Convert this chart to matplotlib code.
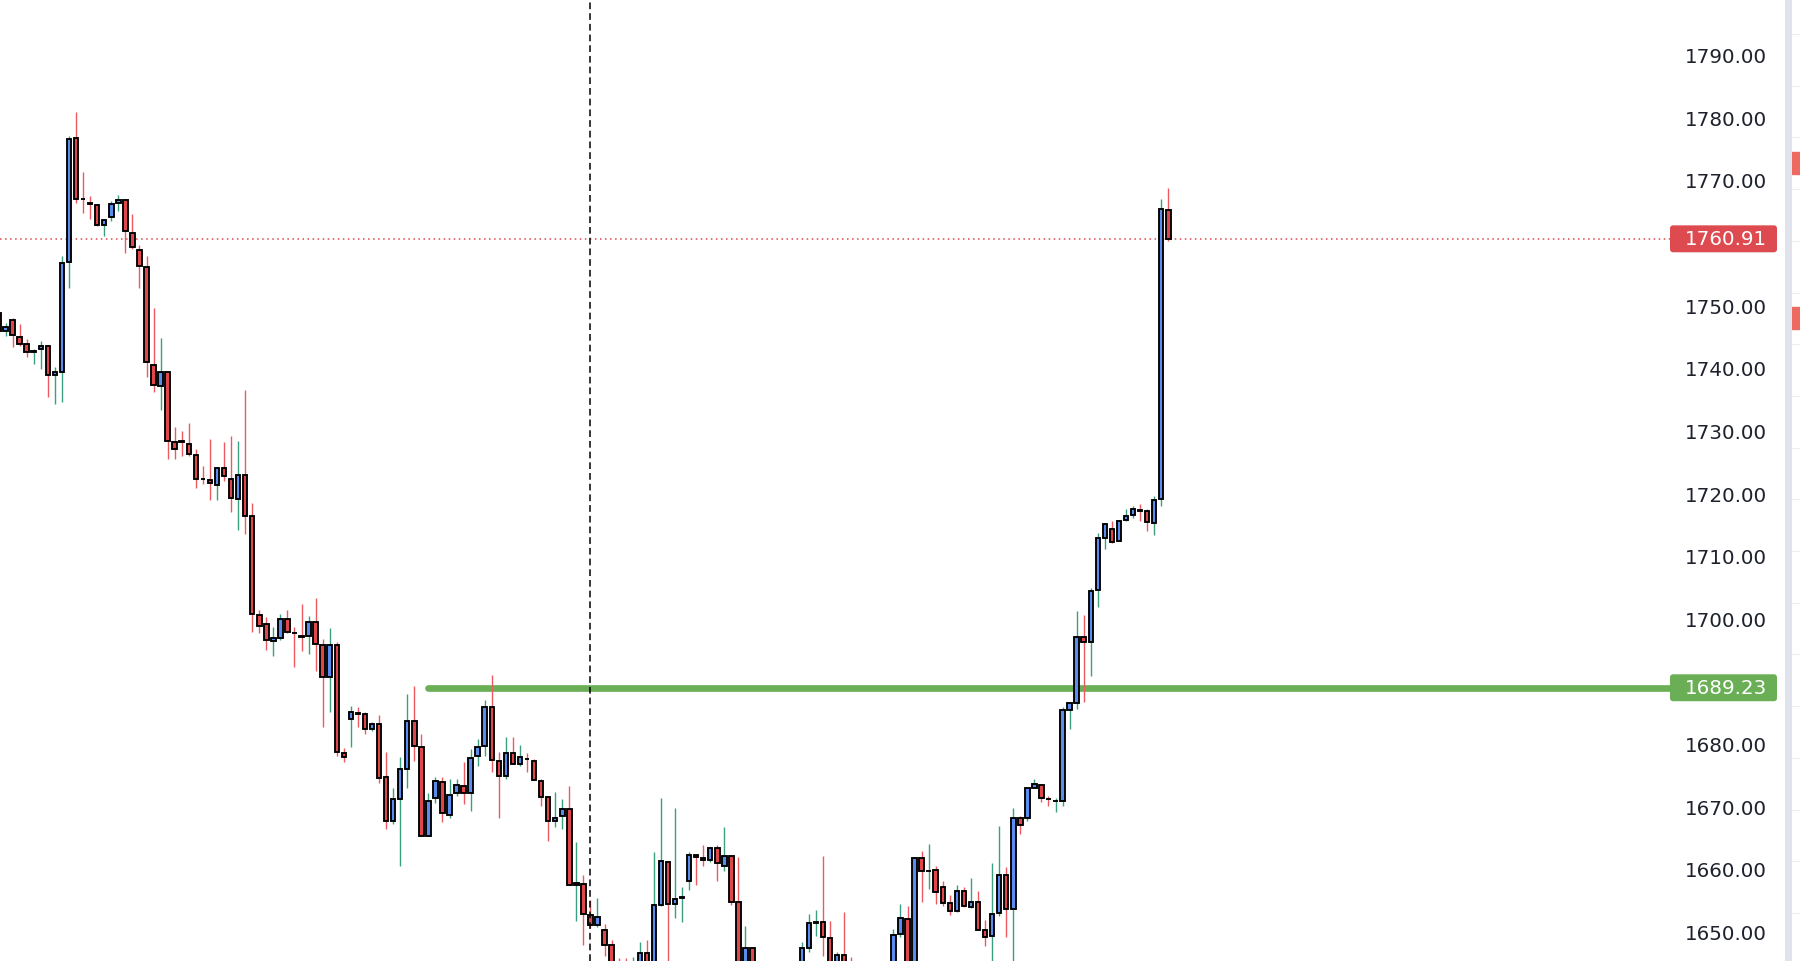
import numpy as np
import matplotlib
matplotlib.use("Agg")
import matplotlib.pyplot as plt
from matplotlib.patches import FancyBboxPatch, Rectangle

# OHLC per bar (bars 108-113 and 122-126 sit below the visible window)
opens = [1749.1, 1746.2, 1748.0, 1745.3, 1744.1, 1742.9, 1743.3, 1743.8, 1739.2, 1739.7,
         1757.2, 1777.0, 1767.3, 1766.6, 1766.3, 1763.1, 1764.4, 1766.7, 1767.1, 1761.9,
         1759.1, 1756.4, 1740.8, 1737.4, 1739.7, 1728.4, 1728.7, 1728.1, 1726.4, 1722.6,
         1722.4, 1721.6, 1724.3, 1722.5, 1719.4, 1723.2, 1716.6, 1700.8, 1699.4, 1696.7,
         1697.2, 1700.2, 1698.0, 1697.5, 1697.5, 1699.8, 1696.0, 1690.9, 1696.0, 1678.8,
         1684.2, 1685.2, 1685.1, 1682.7, 1683.4, 1674.9, 1668.0, 1671.5, 1676.2, 1683.9,
         1679.7, 1665.6, 1671.6, 1674.2, 1668.9, 1672.4, 1673.6, 1672.4, 1678.3, 1680.0,
         1686.1, 1677.6, 1675.1, 1678.8, 1677.1, 1677.9, 1677.6, 1674.4, 1671.8, 1668.0,
         1668.7, 1669.8, 1657.7, 1657.9, 1653.0, 1651.4, 1650.6, 1648.2, 1645.0, 1644.5,
         1643.0, 1645.0, 1646.8, 1645.2, 1654.6, 1661.4, 1654.7, 1655.7, 1658.4, 1662.5,
         1662.0, 1661.7, 1663.7, 1660.8, 1662.3, 1655.0, 1643.5, 1647.6, 1642.0, 1639.5,
         1641.0, 1638.0, 1640.5, 1642.5, 1643.5, 1647.6, 1651.7, 1651.8, 1649.3, 1644.5,
         1646.5, 1644.0, 1642.5, 1639.0, 1641.5, 1640.0, 1642.0, 1643.5, 1649.9, 1652.3,
         1644.5, 1662.0, 1659.9, 1660.2, 1657.4, 1654.9, 1653.6, 1656.7, 1654.3, 1655.1,
         1650.5, 1649.6, 1653.3, 1659.4, 1653.9, 1668.4, 1668.5, 1673.3, 1673.7, 1671.5,
         1671.1, 1671.2, 1685.6, 1686.8, 1697.3, 1696.5, 1704.8, 1713.2, 1714.6, 1712.7,
         1716.05, 1716.8, 1717.6, 1717.4, 1715.6, 1719.35, 1765.5]
highs = [1750.0, 1747.5, 1748.3, 1747.3, 1744.9, 1743.3, 1744.6, 1743.9, 1740.4, 1758.2,
         1777.3, 1781.2, 1771.5, 1767.7, 1766.4, 1764.0, 1767.0, 1767.9, 1767.2, 1764.8,
         1759.9, 1758.2, 1749.9, 1745.0, 1739.8, 1730.8, 1730.3, 1731.5, 1727.3, 1724.7,
         1728.9, 1724.5, 1728.4, 1729.5, 1728.7, 1736.8, 1718.8, 1701.6, 1700.5, 1698.9,
         1701.0, 1701.6, 1698.9, 1702.6, 1700.7, 1703.5, 1697.0, 1698.7, 1696.6, 1679.6,
         1686.3, 1686.1, 1685.4, 1683.7, 1684.9, 1679.0, 1673.3, 1678.1, 1688.3, 1689.5,
         1681.8, 1672.4, 1675.0, 1674.9, 1674.7, 1674.7, 1677.3, 1679.5, 1681.0, 1687.2,
         1691.3, 1678.9, 1681.4, 1681.3, 1680.1, 1678.8, 1677.8, 1674.6, 1672.0, 1672.6,
         1671.5, 1673.5, 1664.6, 1659.3, 1655.3, 1655.6, 1651.5, 1648.9, 1646.0, 1646.0,
         1646.3, 1648.7, 1648.9, 1663.0, 1671.7, 1661.6, 1670.1, 1657.4, 1663.0, 1662.6,
         1664.1, 1663.6, 1664.1, 1667.0, 1662.3, 1662.2, 1651.2, 1647.8, 1644.5, 1642.0,
         1643.0, 1641.5, 1643.5, 1644.8, 1648.6, 1653.1, 1653.8, 1662.4, 1652.0, 1647.0,
         1653.4, 1646.3, 1644.0, 1642.5, 1643.5, 1643.0, 1644.5, 1650.7, 1654.7, 1654.4,
         1662.1, 1663.1, 1664.3, 1660.7, 1658.3, 1656.1, 1657.7, 1657.4, 1658.9, 1656.8,
         1652.2, 1661.3, 1667.1, 1660.6, 1670.1, 1668.8, 1673.2, 1674.7, 1673.8, 1671.9,
         1671.7, 1686.1, 1686.9, 1701.5, 1700.8, 1705.2, 1714.0, 1715.3, 1715.9, 1716.0,
         1717.75, 1718.2, 1718.5, 1717.75, 1719.9, 1767.3, 1769.1]
lows = [1745.0, 1745.4, 1743.6, 1743.8, 1742.0, 1740.9, 1740.1, 1735.6, 1734.5, 1734.8,
        1753.1, 1766.7, 1765.1, 1764.0, 1763.0, 1761.4, 1763.8, 1765.4, 1758.7, 1759.3,
        1753.1, 1738.9, 1736.4, 1733.5, 1725.7, 1725.7, 1726.3, 1726.3, 1721.2, 1721.7,
        1719.2, 1719.2, 1722.3, 1717.3, 1714.4, 1713.7, 1698.1, 1698.0, 1695.3, 1694.3,
        1696.8, 1697.9, 1692.6, 1695.1, 1694.6, 1691.95, 1682.9, 1685.4, 1678.4, 1677.3,
        1679.7, 1682.9, 1681.8, 1682.4, 1674.1, 1666.7, 1667.5, 1660.8, 1673.2, 1677.6,
        1665.6, 1665.6, 1670.8, 1667.8, 1668.5, 1672.0, 1670.7, 1669.6, 1676.8, 1678.4,
        1675.7, 1668.5, 1674.7, 1677.0, 1676.8, 1675.8, 1674.5, 1670.4, 1664.8, 1667.0,
        1666.7, 1657.8, 1652.0, 1648.2, 1650.9, 1651.0, 1646.4, 1643.0, 1641.5, 1642.0,
        1641.8, 1644.0, 1644.5, 1644.8, 1654.4, 1645.6, 1652.4, 1651.8, 1657.0, 1657.7,
        1660.8, 1661.4, 1658.4, 1660.0, 1654.6, 1643.0, 1642.5, 1641.0, 1638.0, 1636.5,
        1637.0, 1635.5, 1638.5, 1640.0, 1643.0, 1647.0, 1649.6, 1646.4, 1643.5, 1643.0,
        1643.5, 1641.0, 1638.0, 1637.0, 1639.0, 1638.5, 1640.5, 1643.0, 1649.4, 1643.0,
        1644.0, 1655.1, 1657.1, 1654.7, 1654.4, 1652.9, 1653.4, 1654.3, 1654.0, 1650.5,
        1648.0, 1644.0, 1652.8, 1649.4, 1644.0, 1665.9, 1667.9, 1673.2, 1671.0, 1670.4,
        1669.4, 1670.3, 1682.6, 1685.9, 1686.9, 1691.1, 1702.1, 1711.4, 1712.4, 1712.6,
        1715.9, 1716.3, 1715.9, 1714.3, 1713.6, 1718.3, 1760.6]
closes = [1746.2, 1746.8, 1745.5, 1744.1, 1742.9, 1743.0, 1743.8, 1739.2, 1739.7, 1757.0,
          1776.8, 1767.3, 1767.2, 1766.5, 1763.1, 1763.9, 1766.5, 1767.1, 1762.1, 1759.6,
          1756.6, 1741.2, 1737.5, 1739.7, 1728.7, 1727.3, 1728.5, 1726.5, 1722.6, 1722.5,
          1721.9, 1724.3, 1723.0, 1719.5, 1723.2, 1716.7, 1701.0, 1699.1, 1696.9, 1697.2,
          1700.2, 1698.1, 1697.9, 1697.4, 1699.8, 1696.2, 1690.9, 1696.0, 1678.9, 1678.1,
          1685.3, 1685.1, 1682.7, 1683.4, 1674.8, 1668.0, 1671.5, 1676.2, 1684.0, 1680.0,
          1665.6, 1671.1, 1674.4, 1669.2, 1672.1, 1673.7, 1672.4, 1678.0, 1679.7, 1686.1,
          1677.7, 1675.2, 1678.8, 1677.1, 1678.1, 1677.8, 1674.5, 1671.8, 1668.0, 1668.5,
          1669.8, 1657.8, 1658.1, 1653.1, 1651.4, 1652.7, 1648.2, 1644.8, 1643.0, 1643.5,
          1645.0, 1646.8, 1645.2, 1654.6, 1661.5, 1654.7, 1655.5, 1655.8, 1662.6, 1662.2,
          1661.8, 1663.6, 1661.2, 1662.3, 1655.0, 1644.5, 1647.6, 1642.0, 1639.5, 1641.0,
          1638.0, 1640.5, 1642.5, 1643.5, 1647.6, 1651.6, 1651.8, 1649.4, 1644.5, 1646.5,
          1644.0, 1642.5, 1639.0, 1641.5, 1640.0, 1642.0, 1643.5, 1649.8, 1652.5, 1644.5,
          1662.1, 1659.9, 1660.0, 1656.6, 1654.9, 1653.6, 1656.7, 1654.4, 1655.1, 1650.6,
          1649.5, 1653.1, 1659.4, 1653.9, 1668.4, 1667.3, 1673.2, 1673.8, 1671.6, 1671.4,
          1671.2, 1685.6, 1686.8, 1697.4, 1696.6, 1704.7, 1713.1, 1715.3, 1712.5, 1715.9,
          1716.6, 1717.7, 1717.5, 1715.7, 1719.2, 1765.6, 1760.91]

last_price = 1760.91
level_price = 1689.23
level_start = 61
marker_bar = 84
price_ticks = np.arange(1650, 1801, 10)

o = np.array(opens)
h = np.array(highs)
l = np.array(lows)
c = np.array(closes)
x = np.arange(len(o))
up = c >= o

BLUE = "#5b8def"
RED = "#e0474c"
WICK_UP = "#3d9f82"
WICK_DN = "#ec5a5f"
YLIM = (1645.6, 1799.2)

fig = plt.figure(figsize=(18, 9.62), dpi=100)
fig.patch.set_facecolor("white")

ax = fig.add_axes([0, 0, 1670 / 1800, 1])
ax.set_xlim(0.21, 237.2)
ax.set_ylim(*YLIM)
ax.axis("off")

# wicks behind, bodies on top
ax.vlines(x, l, h, colors=np.where(up, WICK_UP, WICK_DN), linewidth=1.0, zorder=2)
ax.bar(x, np.abs(c - o), bottom=np.minimum(o, c), width=0.64,
       color=np.where(up, BLUE, RED), edgecolor="black", linewidth=1.35, zorder=3)

ax.axhline(last_price, color="#e0474c", linewidth=1.1, linestyle=(0, (1, 2.3)), zorder=1)
ax.plot([level_start, 237.2], [level_price, level_price], color="#6aaf55",
        linewidth=4.8, solid_capstyle="round", zorder=1)
ax.axvline(marker_bar, color="black", linewidth=1.1, linestyle=(0, (4.4, 2.6)), zorder=4)

# price scale
sax = fig.add_axes([1670 / 1800, 0, 115 / 1800, 1])
sax.set_xlim(0, 115)
sax.set_ylim(*YLIM)
sax.axis("off")
for v in price_ticks:
    if abs(v - last_price) < 4 or abs(v - level_price) < 4:
        continue
    sax.text(56, v, f"{v:.2f}", ha="center", va="center", fontsize=14.3,
             color="#1e222d", family="DejaVu Sans", clip_on=False)

for price, col in [(last_price, "#dd4a4f"), (level_price, "#6aaf55")]:
    box = FancyBboxPatch((0, price - 2.15), 107, 4.3,
                         boxstyle="round,pad=0,rounding_size=3",
                         mutation_aspect=1 / 6.265, fc=col, ec="none", zorder=5)
    sax.add_patch(box)
    sax.text(56, price, f"{price:.2f}", ha="center", va="center", fontsize=14.3,
             color="white", family="DejaVu Sans", zorder=6)

# separator and the edge of the neighbouring panel
gax = fig.add_axes([1785 / 1800, 0, 7 / 1800, 1])
gax.set_facecolor("#e0e3eb")
gax.set_xticks([])
gax.set_yticks([])
for s in gax.spines.values():
    s.set_visible(False)

rax = fig.add_axes([1792 / 1800, 0, 8 / 1800, 1])
rax.set_xlim(0, 1)
rax.set_ylim(962, 0)
rax.axis("off")
for yy in np.arange(35, 962, 51.7):
    rax.axhline(yy, color="#eceef2", linewidth=0.8)
for top in [153, 308]:
    rax.add_patch(Rectangle((0, top), 1, 22, color="#ec6a62"))

fig.savefig("out.png", dpi=100)
